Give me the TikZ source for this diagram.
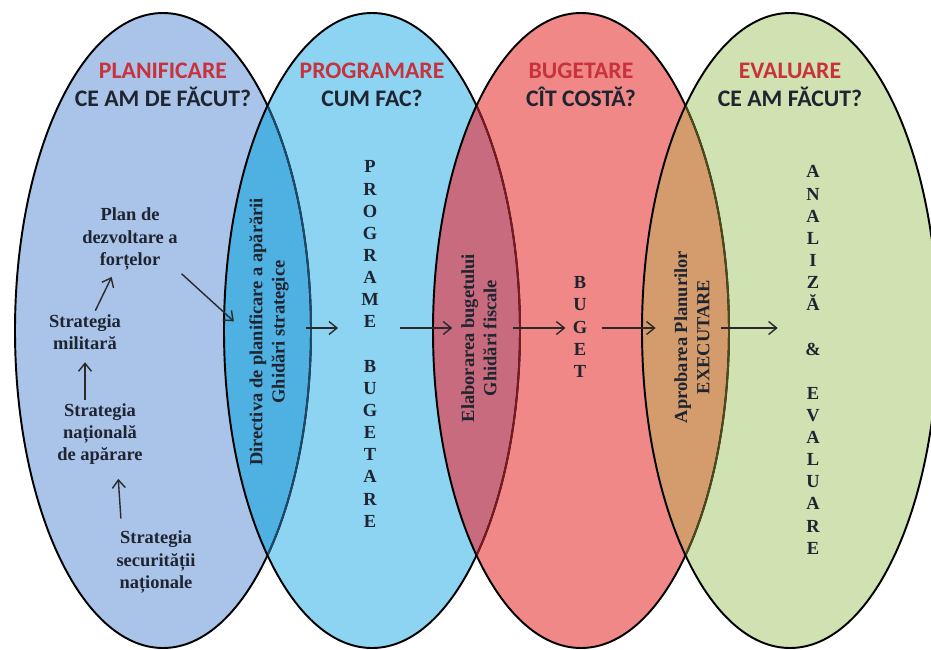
\documentclass[tikz,border=0pt]{standalone}
\usepackage{fontspec}
\usepackage{xcolor}
\usepackage{tikz}
\usetikzlibrary{arrows.meta,positioning}
\newfontfamily\headfam{Carlito}
\newfontfamily\bodyfam{Liberation Serif}
\definecolor{cPlan}{HTML}{A9C4E8}
\definecolor{cProg}{HTML}{8DD4F3}
\definecolor{cBug}{HTML}{F08888}
\definecolor{cEval}{HTML}{D0E1B2}
\definecolor{cLensA}{HTML}{4FB0E2}
\definecolor{cLensB}{HTML}{C86B7E}
\definecolor{cLensC}{HTML}{D49C6C}
\definecolor{cEdgeA}{HTML}{1D4A6A}
\definecolor{cEdgeB}{HTML}{7A1A20}
\definecolor{cEdgeC}{HTML}{4A4A1A}
\definecolor{cRed}{HTML}{C8323C}
\definecolor{cText}{HTML}{1E2430}
\definecolor{cArrow}{HTML}{2A2A2A}
\tikzset{
  oval/.style ={draw=black, line width=1.1pt},
  arrow/.style={-{Straight Barb[length=1.6mm,width=2.6mm]}, line width=0.8pt, draw=cArrow},
  head/.style ={font=\headfam\bfseries\fontsize{13.5}{15.9}\selectfont, text=cText, align=center},
  body/.style ={font=\bodyfam\bfseries\fontsize{10.5}{12.6}\selectfont, text=cText, align=center, inner sep=2pt},
  lens/.style ={body, rotate=90},
}

\begin{document}
\begin{tikzpicture}[x=0.02cm,y=-0.02cm]
  \useasboundingbox (0,0) rectangle (931,650);
  \fill[white] (0,0) rectangle (931,650);
  \foreach \cx/\col in {163/cPlan,372/cProg,581/cBug,790/cEval}
    \fill[\col] (\cx,330.5) ellipse [x radius=148, y radius=317.5];
  \foreach \ca/\cb/\col in {163/372/cLensA,372/581/cLensB,581/790/cLensC}{
    \begin{scope}
      \clip (\ca,330.5) ellipse [x radius=148, y radius=317.5];
      \fill[\col] (\cb,330.5) ellipse [x radius=148, y radius=317.5];
    \end{scope}
  }
  \foreach \cx in {163,372,581,790}
    \draw[oval] (\cx,330.5) ellipse [x radius=148, y radius=317.5];
  \foreach \ca/\cb/\col in {163/372/cEdgeA,372/581/cEdgeB,581/790/cEdgeC}{
    \begin{scope}
      \clip (\cb,330.5) ellipse [x radius=147, y radius=316.5];
      \draw[oval,draw=\col] (\ca,330.5) ellipse [x radius=148, y radius=317.5];
    \end{scope}
  }

  \node[head] (hPlan) at (163,85) {\textcolor{cRed}{PLANIFICARE}\\CE AM DE FĂCUT?};
  \node[head] (hProg) at (372,85) {\textcolor{cRed}{PROGRAMARE}\\CUM FAC?};
  \node[head] (hBug)  at (581,85) {\textcolor{cRed}{BUGETARE}\\CÎT COSTĂ?};
  \node[head] (hEval) at (790,85) {\textcolor{cRed}{EVALUARE}\\CE AM FĂCUT?};

  \node[body] (plan) at (130,239) {Plan de\\dezvoltare a\\forțelor};
  \node[body] (mil)  at (85,332)  {Strategia\\militară};
  \node[body] (nat)  at (100,434) {Strategia\\națională\\de apărare};
  \node[body] (sec)  at (156,562) {Strategia\\securității\\naționale};

  \node[lens] (dir)   at (269,332) {Directiva de planificare a apărării\\Ghidări strategice};
  \node[lens] (elab)  at (479,338) {Elaborarea bugetului\\Ghidări fiscale};
  \node[lens] (aprob) at (692,337) {Aprobarea Planurilor\\EXECUTARE};

  \node[body] (prog)  at (370,344) {P\\R\\O\\G\\R\\A\\M\\E\\[12.6pt]B\\U\\G\\E\\T\\A\\R\\E};
  \node[body] (buget) at (580,327) {B\\U\\G\\E\\T};
  \node[body] (anal)  at (813,360) {A\\N\\A\\L\\I\\Z\\Ă\\[12.6pt]\&\\[12.6pt]E\\V\\A\\L\\U\\A\\R\\E};

  \draw[arrow, shorten >=2pt] (mil) -- (plan);
  \draw[arrow, shorten >=5pt] (nat.north -| mil) -- (mil);
  \draw[arrow, shorten <=5pt, shorten >=6pt] ([xshift=5pt]sec.north west) -- ([xshift=10pt]nat.south);
  \draw[arrow, shorten >=9pt] (plan.south east) -- (dir.north);

  \coordinate (axis) at (0,328);
  \draw[arrow, shorten <=7.5pt, shorten >=11pt] (dir.south |- axis) -- (prog.west |- axis);
  \draw[arrow, shorten <=10pt, shorten >=3pt] (prog.east |- axis) -- (elab.north |- axis);
  \draw[arrow, shorten <=7pt, shorten >=2pt] (elab.south |- axis) -- (buget.west |- axis);
  \draw[arrow, shorten <=6pt, shorten >=8.5pt] (buget.east |- axis) -- (aprob.north |- axis);
  \draw[arrow, shorten <=4.5pt, shorten >=13.5pt] (aprob.south |- axis) -- (anal.west |- axis);
\end{tikzpicture}
\end{document}
